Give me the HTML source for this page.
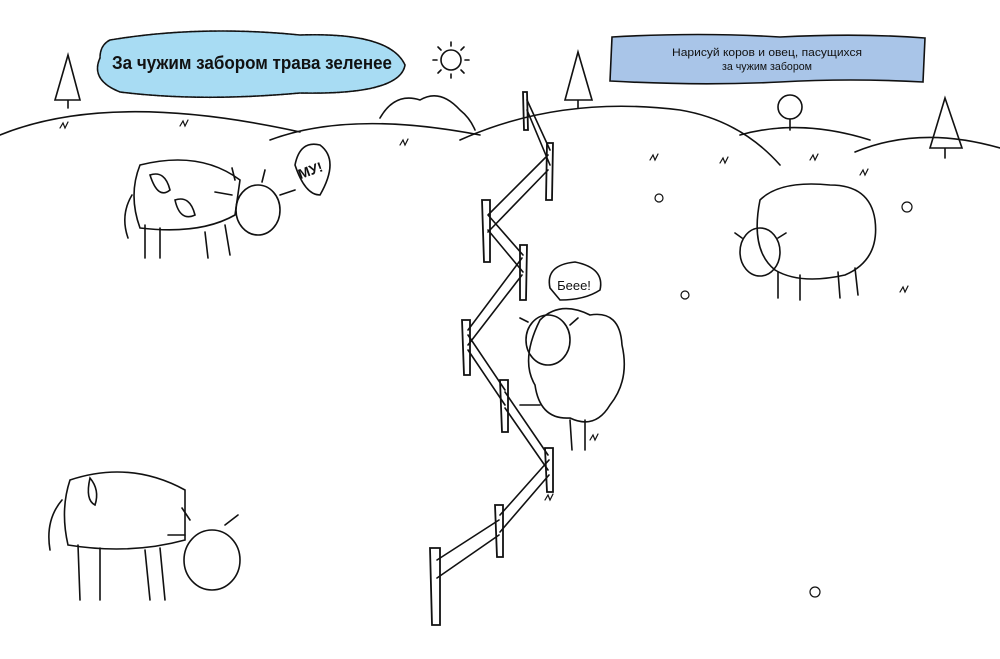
<!DOCTYPE html>
<html><head><meta charset="utf-8"><style>
body{margin:0;background:#fff;width:1000px;height:659px;overflow:hidden}
svg{display:block}
text{font-family:"Liberation Sans",sans-serif}
</style></head><body>
<svg width="1000" height="659" viewBox="0 0 1000 659" fill="none" stroke="#111" stroke-width="1.6" stroke-linecap="round">
<path d="M0,135 Q110,90 300,132"/>
<path d="M270,140 Q350,110 480,135"/>
<path d="M460,140 Q560,95 680,110 Q740,120 780,165"/>
<path d="M740,135 Q800,118 870,140"/>
<path d="M855,152 Q920,125 1000,148"/>
<path d="M68,55 L55,100 L80,100 Z M68,100 L68,108"/>
<path d="M578,52 L565,100 L592,100 Z M578,100 L578,108"/>
<path d="M945,98 L930,148 L962,148 Z M945,148 L945,158"/>
<circle cx="790" cy="107" r="12"/><path d="M790,119 L790,130"/>
<path d="M380,118 Q395,92 420,100 Q440,88 460,110 Q470,118 475,130"/>
<circle cx="451" cy="60" r="10"/>
<path d="M451,42 L451,46 M451,74 L451,78 M433,60 L437,60 M465,60 L469,60 M438,47 L441,50 M461,70 L464,73 M438,73 L441,70 M461,50 L464,47"/>
<path d="M110,40 Q200,25 300,35 Q390,32 405,65 Q400,95 300,93 Q200,102 120,92 Q90,80 100,58 Q100,45 110,40 Z" fill="#a8dcf3" stroke-dasharray="3 1"/>
<text x="252" y="69" font-size="18" font-weight="bold" fill="#111" stroke="none" text-anchor="middle" textLength="280" lengthAdjust="spacingAndGlyphs">За чужим забором трава зеленее</text>
<path d="M612,37 Q700,32 780,37 Q860,33 925,38 L923,82 Q850,78 780,82 Q700,86 610,81 Z" fill="#a9c5e8"/>
<text x="767" y="56" font-size="11" fill="#111" stroke="none" text-anchor="middle" textLength="190" lengthAdjust="spacingAndGlyphs">Нарисуй коров и овец, пасущихся</text>
<text x="767" y="70" font-size="11" fill="#111" stroke="none" text-anchor="middle" textLength="90" lengthAdjust="spacingAndGlyphs">за чужим забором</text>
<g stroke-width="1.8">
<path d="M523,92 L527,92 L528,130 L524,130 Z"/>
<path d="M547,143 L553,143 L552,200 L546,200 Z"/>
<path d="M482,200 L490,200 L490,262 L484,262 Z"/>
<path d="M520,245 L527,245 L526,300 L520,300 Z"/>
<path d="M462,320 L470,320 L470,375 L464,375 Z"/>
<path d="M500,380 L508,380 L508,432 L502,432 Z"/>
<path d="M545,448 L553,448 L553,492 L547,492 Z"/>
<path d="M495,505 L503,505 L503,557 L497,557 Z"/>
<path d="M430,548 L440,548 L440,625 L432,625 Z"/>
</g>
<path d="M527,100 L550,150 M527,110 L550,165 M548,155 L488,215 M548,170 L488,232 M488,215 L523,255 M488,230 L523,272 M522,258 L468,330 M522,275 L468,345 M468,335 L505,390 M468,350 L505,405 M505,392 L548,455 M505,408 L548,470 M549,460 L500,515 M549,475 L500,532 M499,520 L437,560 M499,535 L437,578"/>
<path d="M140,165 Q200,150 240,180 L235,215 Q200,235 140,228 Q128,195 140,165 Z"/>
<path d="M150,175 Q165,170 170,190 Q158,200 150,175 Z M175,200 Q190,195 195,215 Q180,222 175,200 Z" fill="#fff"/>
<ellipse cx="258" cy="210" rx="22" ry="25"/>
<path d="M145,225 L145,258 M160,228 L160,258 M205,232 L208,258 M225,225 L230,255 M132,195 Q120,215 128,238"/>
<path d="M235,180 L232,168 M262,182 L265,170 M232,195 L215,192 M280,195 L295,190"/>
<path d="M295,165 Q300,140 320,145 Q340,160 320,195 Q305,195 295,165 Z"/>
<text x="312" y="175" font-size="14" font-weight="bold" fill="#111" stroke="none" text-anchor="middle" transform="rotate(-20 312 175)">МУ!</text>
<path d="M70,480 Q130,460 185,490 L185,540 Q130,555 68,545 Q60,510 70,480 Z"/>
<path d="M90,478 Q100,490 95,505 Q85,500 90,478 Z"/>
<ellipse cx="212" cy="560" rx="28" ry="30"/>
<path d="M78,545 L80,600 M100,548 L100,600 M145,550 L150,600 M160,548 L165,600 M62,500 Q45,520 50,550"/>
<path d="M190,520 L182,508 M225,525 L238,515 M185,535 L168,535"/>
<path d="M540,320 Q560,300 590,315 Q620,310 622,345 Q630,380 610,405 Q595,430 570,418 Q540,420 535,385 Q520,360 540,320 Z"/>
<ellipse cx="548" cy="340" rx="22" ry="25"/>
<path d="M528,322 L520,318 M570,325 L578,318 M570,420 L572,450 M585,420 L585,450 M540,405 L520,405"/>
<path d="M550,288 Q545,265 575,262 Q605,268 600,290 Q585,300 560,300 Z"/>
<text x="574" y="290" font-size="13" fill="#111" stroke="none" text-anchor="middle">Беее!</text>
<path d="M760,200 Q780,180 830,185 Q870,185 875,220 Q880,260 845,275 Q800,285 775,270 Q750,250 760,200 Z"/>
<ellipse cx="760" cy="252" rx="20" ry="24"/>
<path d="M742,238 L735,233 M778,238 L786,233 M778,272 L778,298 M800,275 L800,300 M838,272 L840,298 M855,268 L858,295"/>
<g stroke-width="1.2">
<circle cx="907" cy="207" r="5"/><circle cx="659" cy="198" r="4"/><circle cx="685" cy="295" r="4"/><circle cx="815" cy="592" r="5"/>
<path d="M60,128 l3,-5 l2,5 l3,-6 M180,126 l3,-5 l2,5 l3,-6 M400,145 l3,-5 l2,5 l3,-6 M650,160 l3,-5 l2,5 l3,-6 M720,163 l3,-5 l2,5 l3,-6 M810,160 l3,-5 l2,5 l3,-6 M860,175 l3,-5 l2,5 l3,-6 M590,440 l3,-5 l2,5 l3,-6 M545,500 l3,-5 l2,5 l3,-6 M900,292 l3,-5 l2,5 l3,-6"/>
</g>
</svg>
</body></html>
